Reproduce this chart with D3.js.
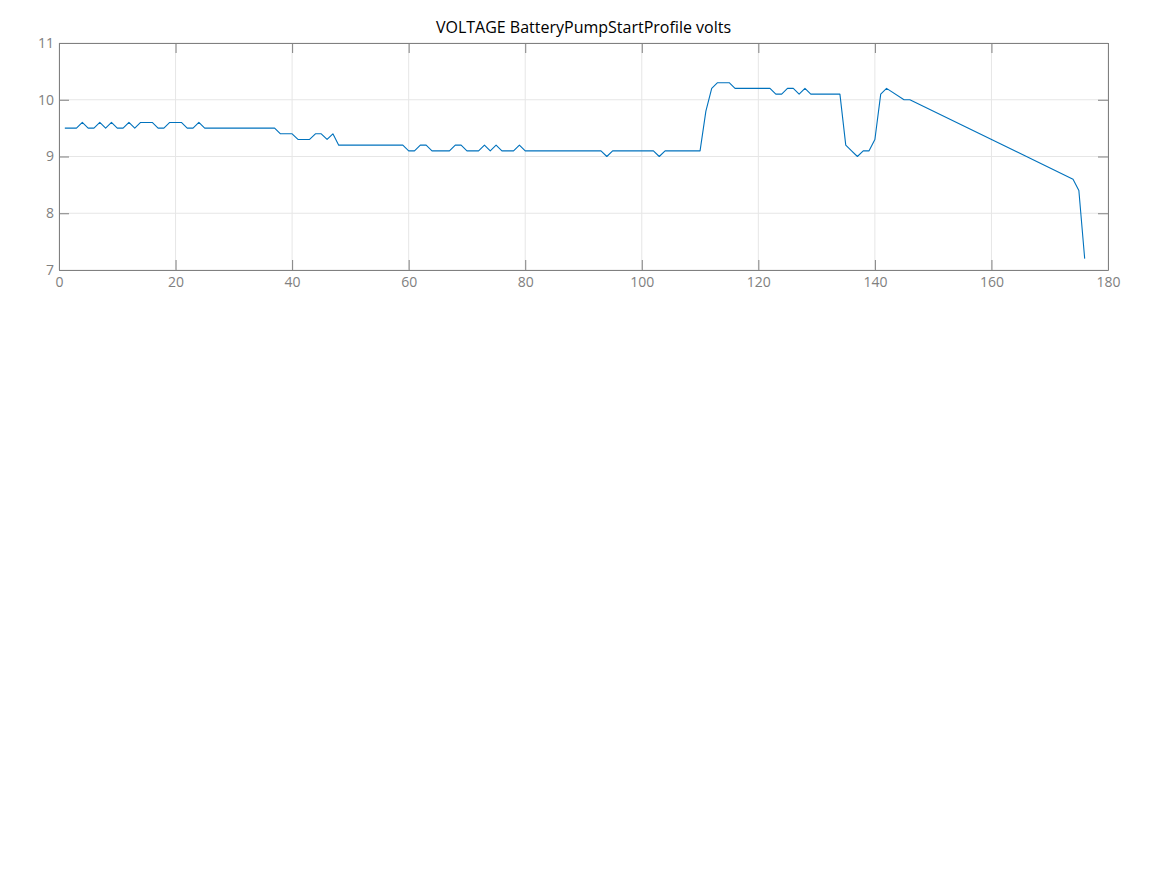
<!DOCTYPE html>
<html>
<head>
<meta charset="utf-8">
<script src="https://cdn.jsdelivr.net/npm/d3@7"></script>
<style>
  html, body { margin: 0; padding: 0; background: #fff; }
  svg { display: block; font-family: "Open Sans", "Noto Sans", sans-serif; }
</style>
</head>
<body>
<svg id="chart" width="1167" height="875"></svg>
<script>
const title = "VOLTAGE BatteryPumpStartProfile volts";
const sampleIndex = [
  1,2,3,4,5,6,7,8,9,10,11,12,13,14,15,16,17,18,19,20,
  21,22,23,24,25,26,27,28,29,30,31,32,33,34,35,36,37,38,39,40,
  41,42,43,44,45,46,47,48,49,50,51,52,53,54,55,56,57,58,59,60,
  61,62,63,64,65,66,67,68,69,70,71,72,73,74,75,76,77,78,79,80,
  81,82,83,84,85,86,87,88,89,90,91,92,93,94,95,96,97,98,99,100,
  101,102,103,104,105,106,107,108,109,110,111,112,113,114,115,116,117,118,119,120,
  121,122,123,124,125,126,127,128,129,130,131,132,133,134,135,136,137,138,139,140,
  141,142,145,146,174,175,176
];
const volts = [
  9.5,9.5,9.5,9.6,9.5,9.5,9.6,9.5,9.6,9.5,9.5,9.6,9.5,9.6,9.6,9.6,9.5,9.5,9.6,9.6,
  9.6,9.5,9.5,9.6,9.5,9.5,9.5,9.5,9.5,9.5,9.5,9.5,9.5,9.5,9.5,9.5,9.5,9.4,9.4,9.4,
  9.3,9.3,9.3,9.4,9.4,9.3,9.4,9.2,9.2,9.2,9.2,9.2,9.2,9.2,9.2,9.2,9.2,9.2,9.2,9.1,
  9.1,9.2,9.2,9.1,9.1,9.1,9.1,9.2,9.2,9.1,9.1,9.1,9.2,9.1,9.2,9.1,9.1,9.1,9.2,9.1,
  9.1,9.1,9.1,9.1,9.1,9.1,9.1,9.1,9.1,9.1,9.1,9.1,9.1,9.0,9.1,9.1,9.1,9.1,9.1,9.1,
  9.1,9.1,9.0,9.1,9.1,9.1,9.1,9.1,9.1,9.1,9.8,10.2,10.3,10.3,10.3,10.2,10.2,10.2,10.2,10.2,
  10.2,10.2,10.1,10.1,10.2,10.2,10.1,10.2,10.1,10.1,10.1,10.1,10.1,10.1,9.2,9.1,9.0,9.1,9.1,9.3,
  10.1,10.2,10.0,10.0,8.6,8.4,7.2
];
const xTicks = [0,20,40,60,80,100,120,140,160,180];
const yTicks = [7,8,9,10,11];

const svg = d3.select("#chart");
const L = 59, R = 1108, T = 43, B = 270;
const x = d3.scaleLinear().domain([0,180]).range([L,R]);
const y = d3.scaleLinear().domain([7,11]).range([B,T]);
const axisColor = "#808080", gridColor = "#e6e6e6", textColor = "#808080";
const tickLen = 10;

// grid
svg.append("g").selectAll("line.vg").data(xTicks).join("line")
  .attr("x1", d => x(d)).attr("x2", d => x(d)).attr("y1", T).attr("y2", B)
  .attr("stroke", gridColor).attr("stroke-width", 1);
svg.append("g").selectAll("line.hg").data(yTicks).join("line")
  .attr("x1", L).attr("x2", R).attr("y1", d => y(d)).attr("y2", d => y(d))
  .attr("stroke", gridColor).attr("stroke-width", 1);

// line
const pts = sampleIndex.map((s,i) => [s, volts[i]]);
svg.append("path").datum(pts)
  .attr("fill", "none").attr("stroke", "#0072BD").attr("stroke-width", 1.1)
  .attr("stroke-linejoin", "round")
  .attr("d", d3.line().x(d => x(d[0])).y(d => y(d[1])));

// axes (ticks inward)
const styleAxis = g => {
  g.select(".domain").attr("stroke", axisColor);
  g.selectAll(".tick line").attr("stroke", axisColor);
  g.selectAll(".tick text").attr("fill", textColor).style("font-size", "14px")
    .style("font-family", "'Open Sans', 'Noto Sans', sans-serif");
};
const xb = svg.append("g").attr("transform", `translate(0,${B})`)
  .call(d3.axisBottom(x).tickValues(xTicks).tickSizeInner(-tickLen).tickSizeOuter(0).tickPadding(7).tickFormat(d3.format("d")));
styleAxis(xb);
const xt = svg.append("g").attr("transform", `translate(0,${T})`)
  .call(d3.axisTop(x).tickValues(xTicks).tickSizeInner(-tickLen).tickSizeOuter(0).tickFormat(""));
styleAxis(xt);
const yl = svg.append("g").attr("transform", `translate(${L},0)`)
  .call(d3.axisLeft(y).tickValues(yTicks).tickSizeInner(-tickLen).tickSizeOuter(0).tickPadding(5).tickFormat(d3.format("d")));
styleAxis(yl);
const yr = svg.append("g").attr("transform", `translate(${R},0)`)
  .call(d3.axisRight(y).tickValues(yTicks).tickSizeInner(-tickLen).tickSizeOuter(0).tickFormat(""));
styleAxis(yr);

// title
svg.append("text").attr("x", (L+R)/2).attr("y", 33).attr("text-anchor", "middle")
  .attr("fill", "#000").style("font-size", "16px").text(title);
</script>
</body>
</html>
